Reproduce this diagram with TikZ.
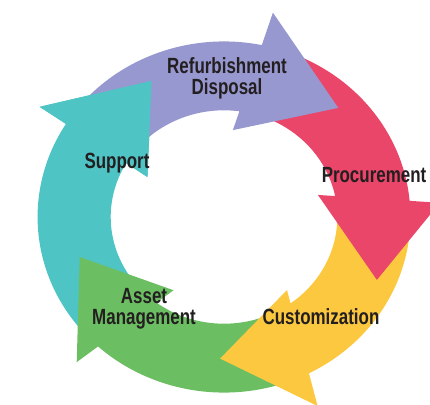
\documentclass[tikz,border=0pt]{standalone}
\usepackage{fontspec}
\newfontfamily\lblfont{Liberation Sans}[FakeStretch=0.77]
\definecolor{cpurple}{RGB}{152,152,208}
\definecolor{cred}{RGB}{234,70,106}
\definecolor{cyellow}{RGB}{251,200,64}
\definecolor{cgreen}{RGB}{108,190,98}
\definecolor{cteal}{RGB}{78,196,196}
\definecolor{ctext}{RGB}{35,31,32}
\begin{document}
\begin{tikzpicture}[x=1pt,y=1pt,
  lbl/.style={font=\lblfont\bfseries\fontsize{22}{21}\selectfont, text=ctext, align=center, inner sep=0pt}]
\useasboundingbox (0,0) rectangle (430,-404);
\begin{scope}[shift={(224,-217)}, xscale=1.03, yscale=0.97]
% teal (Support)
\fill[cteal] (220:181pt) arc[start angle=220, end angle=147.97, radius=181pt]
  -- (147.6:212pt) -- (116.6:157pt) -- (151:85pt) -- (149.7:110pt)
  arc[start angle=149.7, end angle=220, radius=110pt] -- cycle;
% green (Asset Management)
\fill[cgreen] (-66:181pt) arc[start angle=-66, end angle=-132.5, radius=181pt]
  -- (-133.7:207pt) -- (-163.6:146pt) -- (-123:90pt) -- (-126.5:110pt)
  arc[start angle=-126.5, end angle=-66, radius=110pt] -- cycle;
% yellow (Customization)
\fill[cyellow] (0:181pt) arc[start angle=0, end angle=-62.89, radius=181pt]
  -- (-65:215pt) -- (-91.5:146pt) -- (-50.9:97pt) -- (-54.04:110pt)
  arc[start angle=-54.04, end angle=0, radius=110pt] -- cycle;
% red (Procurement)
\fill[cred] (72:181pt) arc[start angle=72, end angle=5.28, radius=181pt]
  -- (4:210pt) -- (-23.6:162pt) -- (14:94pt) -- (11.33:110pt)
  arc[start angle=11.33, end angle=72, radius=110pt] -- cycle;
% purple (Refurbishment Disposal)
\fill[cpurple] (141:181pt) arc[start angle=141, end angle=78.3, radius=181pt]
  -- (77.3:216pt) -- (45.4:158pt) -- (84.5:90pt) -- (82.2:110pt)
  arc[start angle=82.2, end angle=141, radius=110pt] -- cycle;
% teal head again, over the purple tail
\fill[cteal] (147.6:212pt) -- (116.6:157pt) -- (151:85pt) -- cycle;
\end{scope}
\node[lbl, anchor=north] (refurb) at (227,-57) {Refurbishment\\Disposal};
\node[lbl, anchor=base] (support) at (117,-168) {Support};
\node[lbl, anchor=base] (procure) at (374,-182) {Procurement};
\node[lbl, anchor=base] (custom) at (321,-324) {Customization};
\node[lbl, anchor=north] (asset) at (144,-288) {Asset\\Management};
\end{tikzpicture}
\end{document}
